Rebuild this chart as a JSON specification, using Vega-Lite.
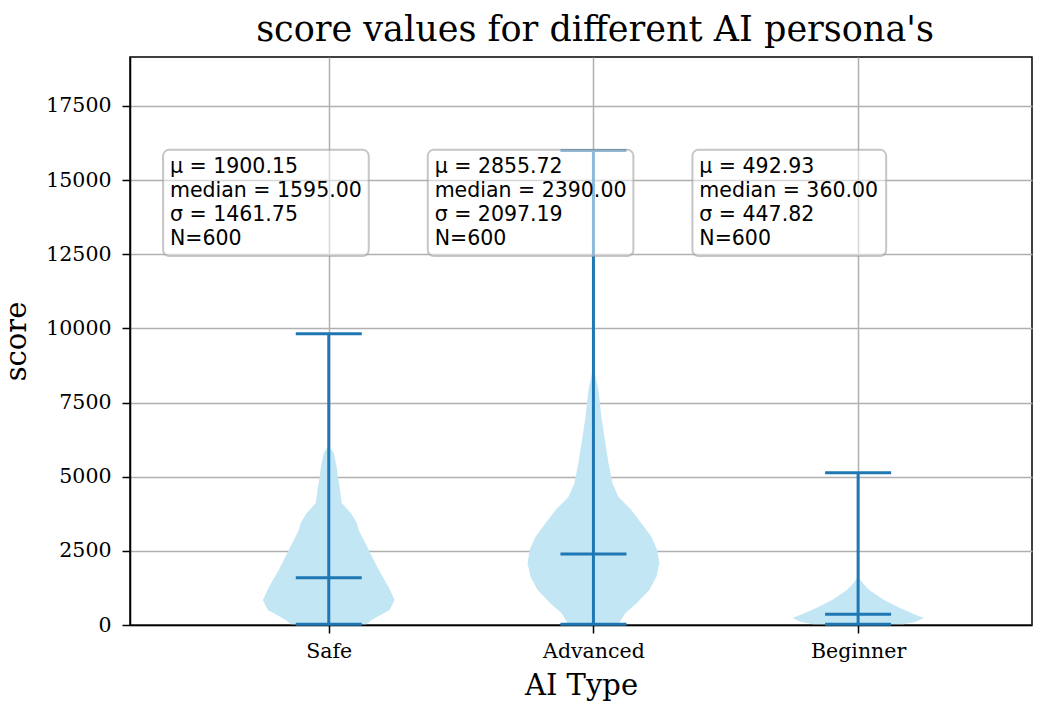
{
  "$schema": "https://vega.github.io/schema/vega-lite/v6.json",
  "width": 902,
  "height": 568,
  "autosize": "none",
  "padding": {"left": 130, "top": 57, "right": 16, "bottom": 77},
  "background": "white",
  "view": {"stroke": "black", "strokeWidth": 1.5},
  "config": {
    "font": "DejaVu Serif",
    "axis": {
      "labelFont": "DejaVu Serif",
      "titleFont": "DejaVu Serif",
      "labelFontSize": 20.5,
      "titleFontSize": 29,
      "titleFontWeight": "normal",
      "labelColor": "black",
      "titleColor": "black",
      "domainColor": "black",
      "domainWidth": 1.5,
      "tickColor": "black",
      "tickWidth": 1.5,
      "tickSize": 8,
      "gridColor": "#b0b0b0",
      "gridWidth": 1.5,
      "gridOpacity": 1
    }
  },
  "title": {
    "text": "score values for different AI persona's",
    "font": "DejaVu Serif",
    "fontSize": 35,
    "fontWeight": "normal",
    "color": "black",
    "anchor": "middle",
    "dx": 14,
    "offset": 9
  },
  "datasets": {
    "violin": [
      {"t": "Safe", "score": 25, "lo": 0.857, "hi": 1.143},
      {"t": "Safe", "score": 169, "lo": 0.838, "hi": 1.162},
      {"t": "Safe", "score": 506, "lo": 0.770, "hi": 1.230},
      {"t": "Safe", "score": 843, "lo": 0.751, "hi": 1.249},
      {"t": "Safe", "score": 1281, "lo": 0.774, "hi": 1.226},
      {"t": "Safe", "score": 1855, "lo": 0.811, "hi": 1.189},
      {"t": "Safe", "score": 2529, "lo": 0.849, "hi": 1.151},
      {"t": "Safe", "score": 2866, "lo": 0.868, "hi": 1.132},
      {"t": "Safe", "score": 3203, "lo": 0.887, "hi": 1.113},
      {"t": "Safe", "score": 3440, "lo": 0.894, "hi": 1.106},
      {"t": "Safe", "score": 3776, "lo": 0.917, "hi": 1.083},
      {"t": "Safe", "score": 4110, "lo": 0.951, "hi": 1.049},
      {"t": "Safe", "score": 4650, "lo": 0.959, "hi": 1.041},
      {"t": "Safe", "score": 5000, "lo": 0.966, "hi": 1.034},
      {"t": "Safe", "score": 5330, "lo": 0.970, "hi": 1.030},
      {"t": "Safe", "score": 5800, "lo": 0.981, "hi": 1.019},
      {"t": "Safe", "score": 6050, "lo": 1.0, "hi": 1.0},
      {"t": "Advanced", "score": 25, "lo": 1.910, "hi": 2.090},
      {"t": "Advanced", "score": 67, "lo": 1.902, "hi": 2.098},
      {"t": "Advanced", "score": 394, "lo": 1.880, "hi": 2.120},
      {"t": "Advanced", "score": 731, "lo": 1.837, "hi": 2.163},
      {"t": "Advanced", "score": 1180, "lo": 1.789, "hi": 2.211},
      {"t": "Advanced", "score": 1630, "lo": 1.762, "hi": 2.238},
      {"t": "Advanced", "score": 2080, "lo": 1.751, "hi": 2.249},
      {"t": "Advanced", "score": 2529, "lo": 1.759, "hi": 2.241},
      {"t": "Advanced", "score": 2978, "lo": 1.781, "hi": 2.219},
      {"t": "Advanced", "score": 3428, "lo": 1.819, "hi": 2.181},
      {"t": "Advanced", "score": 3878, "lo": 1.857, "hi": 2.143},
      {"t": "Advanced", "score": 4327, "lo": 1.906, "hi": 2.094},
      {"t": "Advanced", "score": 4777, "lo": 1.928, "hi": 2.072},
      {"t": "Advanced", "score": 5451, "lo": 1.943, "hi": 2.057},
      {"t": "Advanced", "score": 6126, "lo": 1.955, "hi": 2.045},
      {"t": "Advanced", "score": 7024, "lo": 1.970, "hi": 2.030},
      {"t": "Advanced", "score": 7925, "lo": 1.981, "hi": 2.019},
      {"t": "Advanced", "score": 8700, "lo": 2.0, "hi": 2.0},
      {"t": "Beginner", "score": 25, "lo": 2.830, "hi": 3.170},
      {"t": "Beginner", "score": 101, "lo": 2.785, "hi": 3.215},
      {"t": "Beginner", "score": 236, "lo": 2.751, "hi": 3.249},
      {"t": "Beginner", "score": 337, "lo": 2.781, "hi": 3.219},
      {"t": "Beginner", "score": 573, "lo": 2.842, "hi": 3.158},
      {"t": "Beginner", "score": 843, "lo": 2.902, "hi": 3.098},
      {"t": "Beginner", "score": 1180, "lo": 2.958, "hi": 3.042},
      {"t": "Beginner", "score": 1400, "lo": 2.981, "hi": 3.019},
      {"t": "Beginner", "score": 1620, "lo": 3.0, "hi": 3.0}
    ],
    "stats": [
      {"t": "Safe", "pos": 1, "min": 25, "max": 9820, "median": 1595},
      {"t": "Advanced", "pos": 2, "min": 25, "max": 16000, "median": 2390},
      {"t": "Beginner", "pos": 3, "min": 25, "max": 5130, "median": 360}
    ],
    "boxes": [
      {"t": "Safe", "x1": 0.374, "x2": 1.151, "y1": 12440, "y2": 16020, "tx": 0.40, "ty": 15790, "label": "μ = 1900.15\nmedian = 1595.00\nσ = 1461.75\nN=600"},
      {"t": "Advanced", "x1": 1.374, "x2": 2.151, "y1": 12440, "y2": 16020, "tx": 1.40, "ty": 15790, "label": "μ = 2855.72\nmedian = 2390.00\nσ = 2097.19\nN=600"},
      {"t": "Beginner", "x1": 2.374, "x2": 3.106, "y1": 12440, "y2": 16020, "tx": 2.40, "ty": 15790, "label": "μ = 492.93\nmedian = 360.00\nσ = 447.82\nN=600"}
    ]
  },
  "layer": [
    {
      "data": {"name": "violin"},
      "mark": {"type": "area", "orient": "horizontal", "color": "#c3e6f5", "opacity": 1},
      "encoding": {
        "y": {"field": "score", "type": "quantitative", "scale": {"domain": [0, 19150], "nice": false},
              "axis": {"title": "score", "format": "d", "values": [0, 2500, 5000, 7500, 10000, 12500, 15000, 17500], "titlePadding": 14, "labelPadding": 11, "grid": true}},
        "x": {"field": "lo", "type": "quantitative", "scale": {"domain": [0.249, 3.657], "nice": false, "zero": false},
              "axis": {"title": "AI Type", "values": [1, 2, 3], "labelExpr": "datum.value == 1 ? 'Safe' : datum.value == 2 ? 'Advanced' : 'Beginner'", "titlePadding": 10, "labelPadding": 8, "grid": true}},
        "x2": {"field": "hi"},
        "detail": {"field": "t"}
      }
    },
    {
      "data": {"name": "stats"},
      "mark": {"type": "rule", "color": "#1f77b4", "strokeWidth": 3},
      "encoding": {
        "x": {"field": "pos", "type": "quantitative"},
        "y": {"field": "min", "type": "quantitative"},
        "y2": {"field": "max"}
      }
    },
    {
      "data": {"name": "stats"},
      "transform": [{"fold": ["min", "max", "median"], "as": ["stat", "value"]}],
      "mark": {"type": "tick", "orient": "horizontal", "color": "#1f77b4", "thickness": 3, "size": 66, "opacity": 1},
      "encoding": {
        "x": {"field": "pos", "type": "quantitative"},
        "y": {"field": "value", "type": "quantitative"}
      }
    },
    {
      "data": {"name": "boxes"},
      "mark": {"type": "rect", "fill": "white", "fillOpacity": 0.5, "stroke": "#a0a0a0", "strokeOpacity": 0.6, "strokeWidth": 2, "cornerRadius": 6},
      "encoding": {
        "x": {"field": "x1", "type": "quantitative"},
        "x2": {"field": "x2"},
        "y": {"field": "y1", "type": "quantitative"},
        "y2": {"field": "y2"}
      }
    },
    {
      "data": {"name": "boxes"},
      "mark": {"type": "text", "font": "DejaVu Sans", "fontSize": 20.5, "align": "left", "baseline": "top", "lineBreak": "\n", "lineHeight": 24, "color": "black"},
      "encoding": {
        "x": {"field": "tx", "type": "quantitative"},
        "y": {"field": "ty", "type": "quantitative"},
        "text": {"field": "label"}
      }
    }
  ]
}
